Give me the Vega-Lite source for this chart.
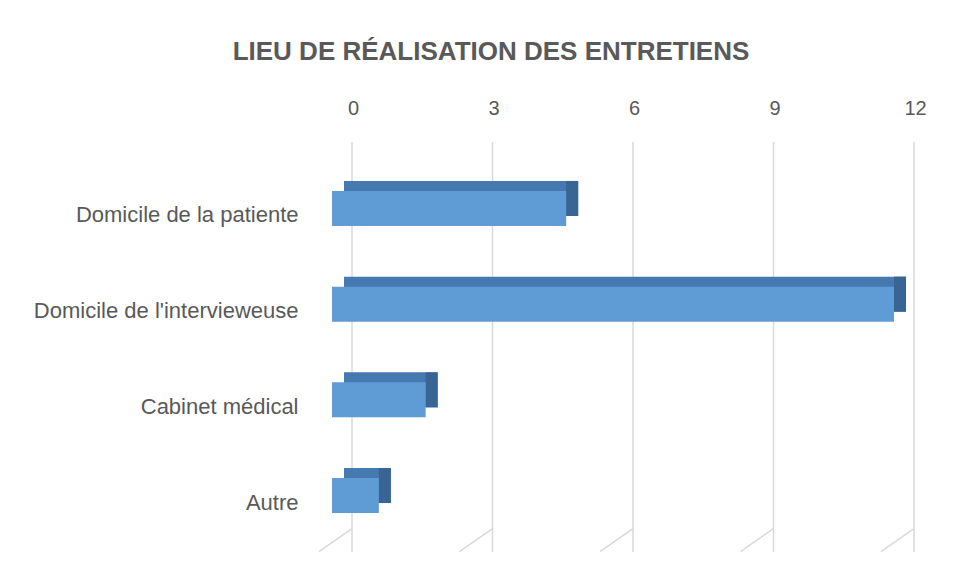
{
  "$schema": "https://vega.github.io/schema/vega-lite/v6.json",
  "autosize": {"type": "none"},
  "width": 562,
  "height": 400,
  "padding": {"left": 332, "top": 152, "right": 64, "bottom": 27},
  "background": "white",
  "config": {"view": {"stroke": null}, "font": "Liberation Sans"},
  "title": {
    "text": "LIEU DE RÉALISATION DES ENTRETIENS",
    "font": "Liberation Sans",
    "fontSize": 26,
    "fontWeight": "bold",
    "color": "#595959",
    "anchor": "middle",
    "dx": -122,
    "offset": 33
  },
  "data": {
    "values": [
      {"lieu": "Domicile de la patiente", "n": 5},
      {"lieu": "Domicile de l'intervieweuse", "n": 12},
      {"lieu": "Cabinet médical", "n": 2},
      {"lieu": "Autre", "n": 1}
    ]
  },
  "layer": [
    {
      "data": {"values": [{"tick": 0}, {"tick": 3}, {"tick": 6}, {"tick": 9}, {"tick": 12}]},
      "mark": {"type": "rule", "color": "#d9d9d9", "strokeWidth": 1.5, "xOffset": 20, "yOffset": -10, "y2Offset": -23},
      "encoding": {"x": {"field": "tick", "type": "quantitative"}}
    },
    {
      "data": {"values": [{"tick": 0}, {"tick": 3}, {"tick": 6}, {"tick": 9}, {"tick": 12}]},
      "mark": {"type": "rule", "color": "#d9d9d9", "strokeWidth": 1.5, "xOffset": 20, "x2Offset": -13, "yOffset": 33, "y2Offset": 56},
      "encoding": {
        "x": {"field": "tick", "type": "quantitative"},
        "x2": {"field": "tick"},
        "y": {"datum": "Autre", "type": "nominal"},
        "y2": {"datum": "Autre"}
      }
    },
    {
      "mark": {"type": "bar", "color": "#4679b0", "xOffset": 12, "x2Offset": 12, "yOffset": -10},
      "encoding": {
        "x": {"field": "n", "type": "quantitative"},
        "y": {"field": "lieu", "type": "nominal"}
      }
    },
    {
      "mark": {"type": "bar", "color": "#386593", "xOffset": 12, "x2Offset": 0, "yOffset": -10},
      "encoding": {
        "x": {"field": "n", "type": "quantitative"},
        "x2": {"field": "n"},
        "y": {"field": "lieu", "type": "nominal"}
      }
    },
    {
      "mark": {"type": "bar", "color": "#5f9bd5"},
      "encoding": {
        "x": {
          "field": "n",
          "type": "quantitative",
          "scale": {"domain": [0, 12], "nice": false},
          "axis": {
            "orient": "top",
            "title": null,
            "values": [0, 3, 6, 9, 12],
            "domain": false,
            "ticks": false,
            "grid": false,
            "labelFlush": false,
            "labelPadding": 34,
            "labelOffset": 21,
            "labelFontSize": 20,
            "labelColor": "#595959",
            "labelFont": "Liberation Sans"
          }
        },
        "y": {
          "field": "lieu",
          "type": "nominal",
          "sort": null,
          "scale": {
            "domain": ["Domicile de la patiente", "Domicile de l'intervieweuse", "Cabinet médical", "Autre"],
            "paddingInner": 0.634,
            "paddingOuter": 0.407
          },
          "axis": {
            "title": null,
            "domain": false,
            "ticks": false,
            "grid": false,
            "labelLimit": 0,
            "labelPadding": 34,
            "labelOffset": 7,
            "labelFontSize": 22,
            "labelColor": "#595959",
            "labelFont": "Liberation Sans"
          }
        }
      }
    }
  ]
}
